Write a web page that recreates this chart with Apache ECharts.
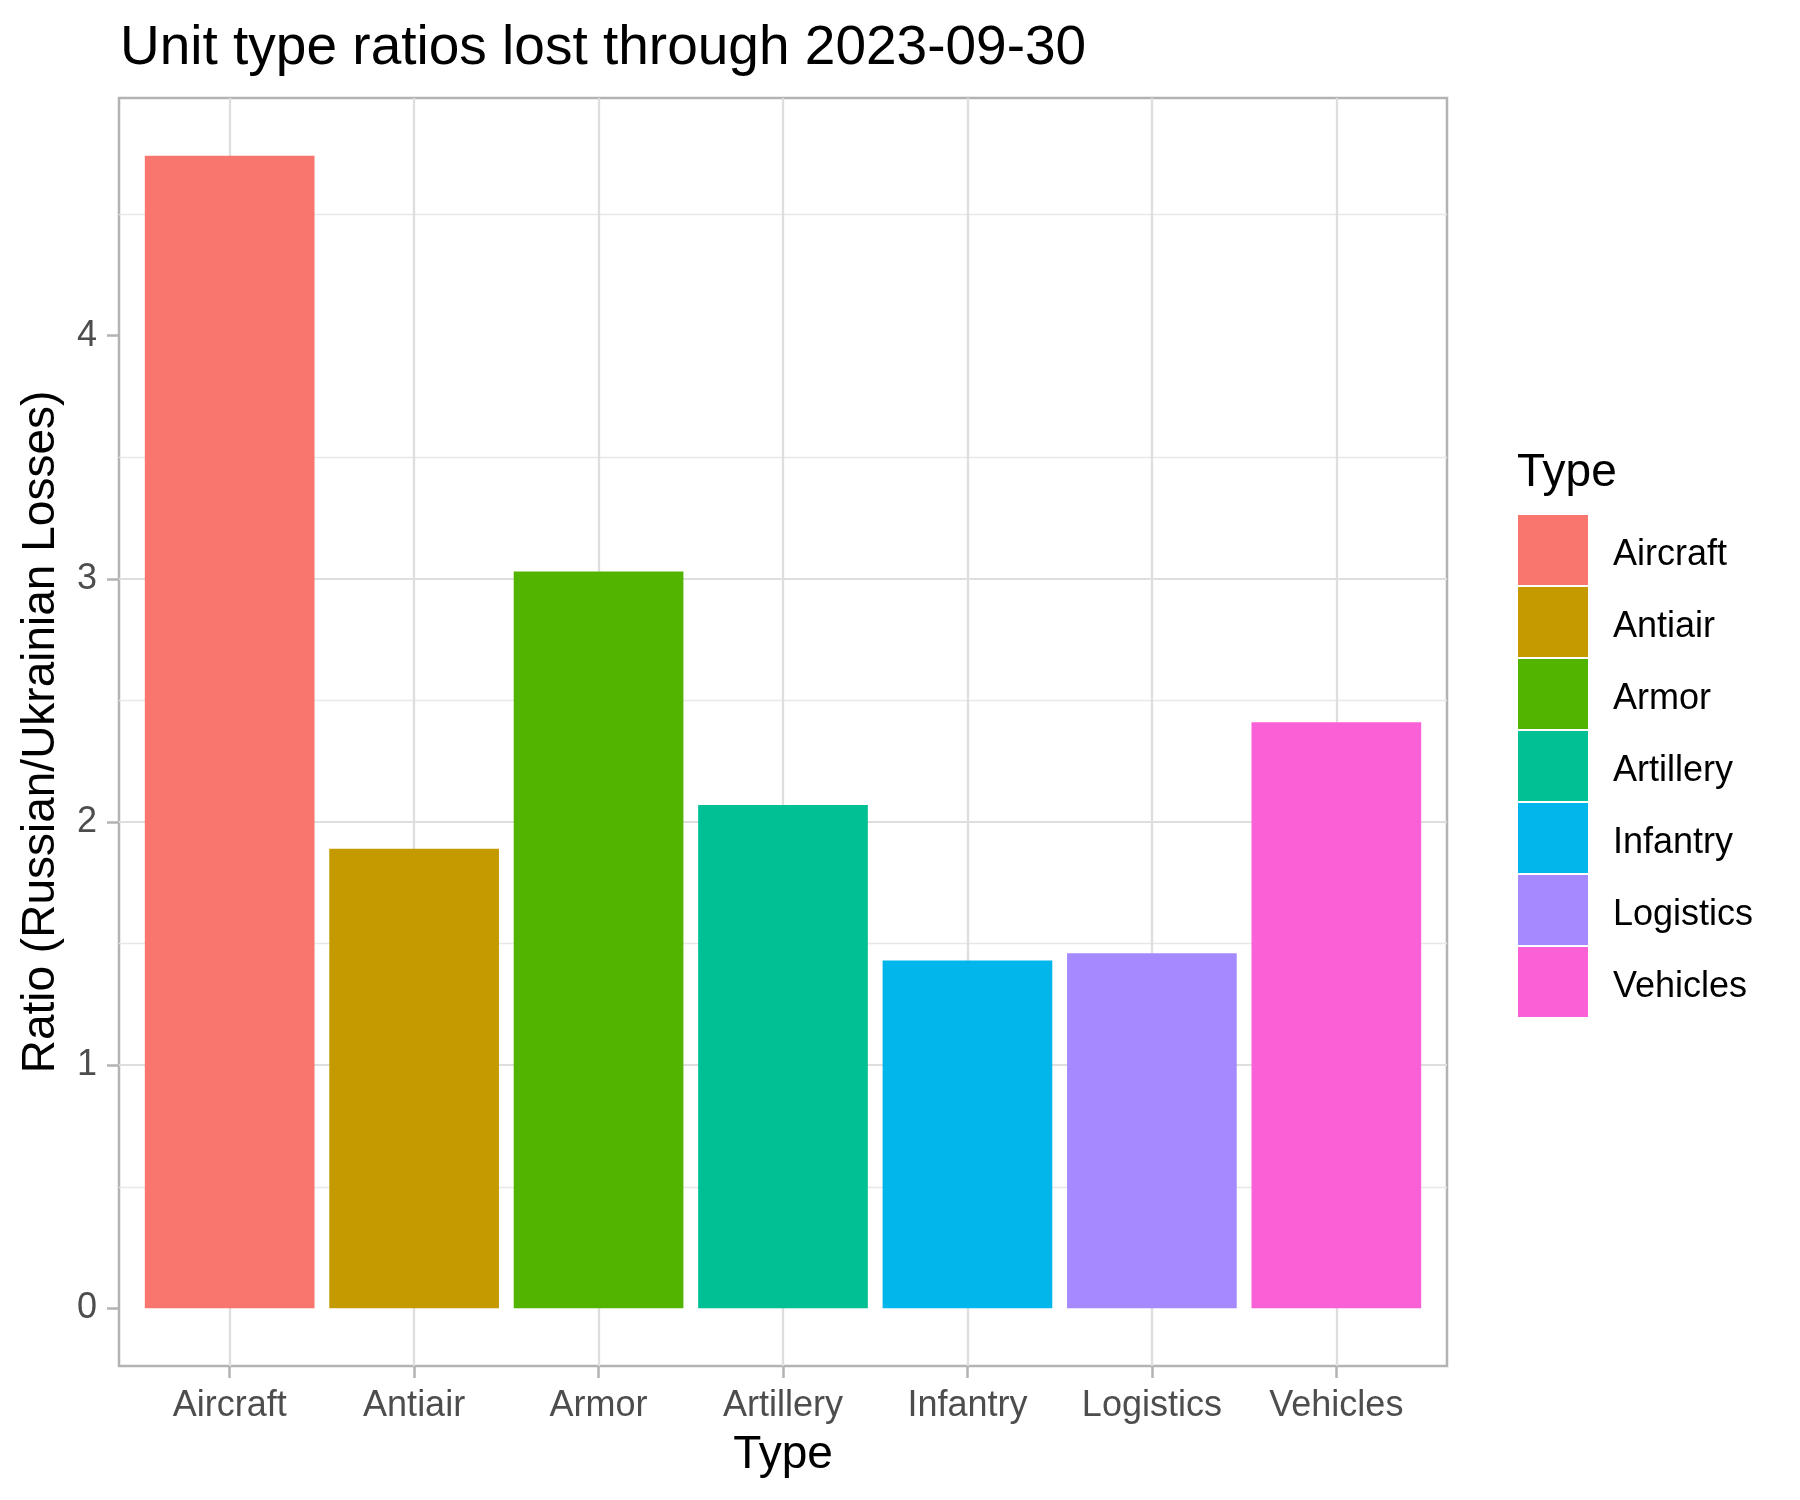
<!DOCTYPE html>
<html>
<head>
<meta charset="utf-8">
<script src="https://cdn.jsdelivr.net/npm/echarts@6/dist/echarts.min.js"></script>
<style>html,body{margin:0;padding:0;background:#fff}#c{width:1800px;height:1500px}</style>
</head>
<body>
<div id="c"></div>
<script>
const categories = ['Aircraft', 'Antiair', 'Armor', 'Artillery', 'Infantry', 'Logistics', 'Vehicles'];
const ratios = [4.74, 1.89, 3.03, 2.07, 1.43, 1.46, 2.41];
const colors = ['#F8766D', '#C49A00', '#53B400', '#00C094', '#00B6EB', '#A58AFF', '#FB61D7'];
const yTicks = [0, 1, 2, 3, 4];

const FONT = '"Liberation Sans", Arial, Helvetica, sans-serif';
const dataMax = Math.max(...ratios);
const yMin = -0.05 * dataMax;
const yMax = 1.05 * dataMax;

const panel = {left: 119, top: 98, width: 1328, height: 1268};
const nCat = categories.length;
const band = panel.width / (nCat - 1 + 1.2);
// inner grid spans from the first category centre to the last one
const inner = {left: panel.left + 0.6 * band, top: panel.top, width: band * (nCat - 1), height: panel.height};

const chart = echarts.init(document.getElementById('c'), null, {renderer: 'canvas'});
chart.setOption({
  backgroundColor: '#ffffff',
  animation: false,
  title: [
    {text: 'Unit type ratios lost through 2023-09-30', left: 120, top: 21, padding: 0,
     textStyle: {fontFamily: FONT, fontSize: 55, fontWeight: 'normal', color: '#000'}},
    {text: 'Type', left: 1517, top: 450, padding: 0,
     textStyle: {fontFamily: FONT, fontSize: 46, fontWeight: 'normal', color: '#000'}}
  ],
  legend: {
    orient: 'vertical', left: 1518, top: 515, padding: 0,
    itemWidth: 70, itemHeight: 70, itemGap: 2, icon: 'rect',
    data: categories,
    formatter: '{a|{name}}',
    textStyle: {fontFamily: FONT, fontSize: 36, color: '#000', padding: [0, 0, 0, 20],
      rich: {a: {fontFamily: FONT, fontSize: 36, color: '#000', padding: [10, 0, 0, 0]}}}
  },
  grid: [
    {left: panel.left, top: panel.top, width: panel.width, height: panel.height,
     show: true, backgroundColor: '#fff', borderColor: '#B3B3B3', borderWidth: 2.5},
    {left: inner.left, top: inner.top, width: inner.width, height: inner.height, show: false}
  ],
  xAxis: [
    {type: 'value', gridIndex: 0, min: 0, max: 1, show: false},
    {type: 'category', gridIndex: 1, data: categories, boundaryGap: false,
     axisLine: {show: false, onZero: false},
     axisTick: {show: true, length: 12, lineStyle: {color: '#B3B3B3', width: 2.5}},
     axisLabel: {fontFamily: FONT, fontSize: 36, color: '#4D4D4D', margin: 22},
     splitLine: {show: true, lineStyle: {color: '#DEDEDE', width: 2.3}},
     name: 'Type', nameLocation: 'middle', nameGap: 66,
     nameTextStyle: {fontFamily: FONT, fontSize: 46, color: '#000'}}
  ],
  yAxis: [
    {type: 'value', gridIndex: 0, min: yMin, max: yMax, minInterval: 1, maxInterval: 1,
     axisLine: {show: false},
     axisTick: {show: true, length: 12, customValues: yTicks, lineStyle: {color: '#B3B3B3', width: 2.5}},
     axisLabel: {fontFamily: FONT, fontSize: 36, color: '#4D4D4D', margin: 22, customValues: yTicks},
     splitLine: {show: true, showMinLine: false, showMaxLine: false, lineStyle: {color: '#DEDEDE', width: 2.2}},
     minorTick: {show: false, splitNumber: 2},
     minorSplitLine: {show: true, lineStyle: {color: '#E8E8E8', width: 1.4}},
     name: 'Ratio (Russian/Ukrainian Losses)', nameLocation: 'middle', nameGap: 55, nameRotate: 90,
     nameTextStyle: {fontFamily: FONT, fontSize: 46, color: '#000'}},
    {type: 'value', gridIndex: 1, min: yMin, max: yMax, show: false, splitLine: {show: false}}
  ],
  series: categories.map((c, i) => ({
    name: c, type: 'bar', stack: 'all', xAxisIndex: 1, yAxisIndex: 1,
    barCategoryGap: '8%', clip: false,
    itemStyle: {color: colors[i]},
    data: ratios.map((v, j) => (j === i ? v : '-'))
  }))
});
</script>
</body>
</html>
